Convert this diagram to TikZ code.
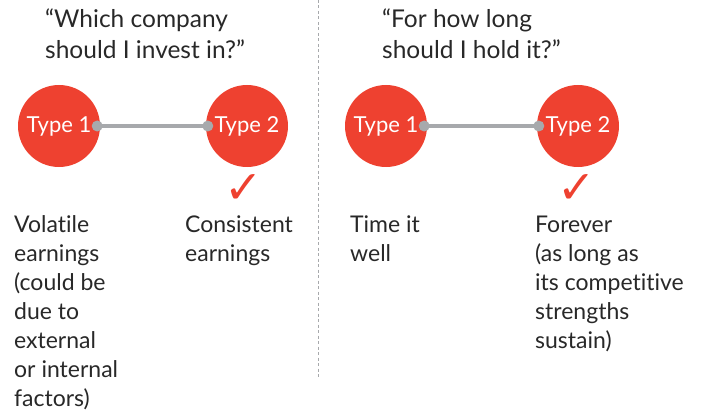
\documentclass[tikz,border=0pt]{standalone}
\usepackage{fontspec}
\setmainfont{Lato}[Ligatures=NoCommon]
\newfontfamily\symfont{DejaVu Sans}
\usepackage{tikz}
\usetikzlibrary{positioning}

\begin{document}
\begin{tikzpicture}[x=1pt, y=-1pt,
    typecirc/.style={circle, fill=colR, minimum size=82pt, inner sep=0pt, text=white, font=\fontsize{22}{26}\selectfont},
    link/.style={draw=colG, line width=3.5pt},
    linkdot/.style={fill=colG},
    question/.style={anchor=base west, inner sep=0pt, align=left, text=colT, font=\fontsize{24.5}{30.5}\selectfont},
    answer/.style={anchor=base west, inner sep=0pt, align=left, text=colT, font=\fontsize{23}{29}\selectfont},
    tick/.style={inner sep=0pt, text=colR, font=\symfont\fontsize{46}{46}\selectfont}]

% ------------------------
% Colors
% ------------------------
\definecolor{colR}{RGB}{238,65,48}
\definecolor{colG}{RGB}{167,169,172}
\definecolor{colT}{RGB}{40,40,40}

% Radius of the little dots on the links
\def\r{5.5}
% Line spacing of the answers (base anchor = last line)
\def\ls{29}

\useasboundingbox (0,0) rectangle (704,417);

% ------------------------
% Divider
% ------------------------
\draw[colG, dashed, line width=0.8pt, dash pattern=on 3pt off 2.5pt] (318,0) -- (318,379);

% ------------------------
% LEFT: which company
% ------------------------
\node[question] (qa) at (45,28+30.5) {``Which company\\should I invest in?''};

\node[typecirc] (t1a) at (59,126) {Type 1};
\node[typecirc] (t2a) at (247,126) {Type 2};
\draw[link] (t1a.east) ++(-3,0) coordinate (la) -- ([xshift=2pt]t2a.west) coordinate (ra);
\fill[linkdot] (la) circle (\r);
\fill[linkdot] (ra) circle (\r);

\node[tick] (ka) at (244,189) {✓};

\node[answer] (a1a) at (14,232+6*\ls) {Volatile\\earnings\\(could be\\due to\\external\\or internal\\factors)};
\node[answer] (a2a) at (185,232+\ls) {Consistent\\earnings};

% ------------------------
% RIGHT: how long to hold
% ------------------------
\node[question] (qb) at (382,28+30.5) {``For how long\\should I hold it?''};

\node[typecirc] (t1b) at (386,126) {Type 1};
\node[typecirc] (t2b) at (578,126) {Type 2};
\draw[link] (t1b.east) ++(-3,0) coordinate (lb) -- ([xshift=2pt]t2b.west) coordinate (rb);
\fill[linkdot] (lb) circle (\r);
\fill[linkdot] (rb) circle (\r);

\node[tick] (kb) at (577,189) {✓};

\node[answer] (a1b) at (350,232+\ls) {Time it\\well};
\node[answer] (a2b) at (535,232+4*\ls) {Forever\\(as long as\\its competitive\\strengths\\sustain)};

\end{tikzpicture}
\end{document}
